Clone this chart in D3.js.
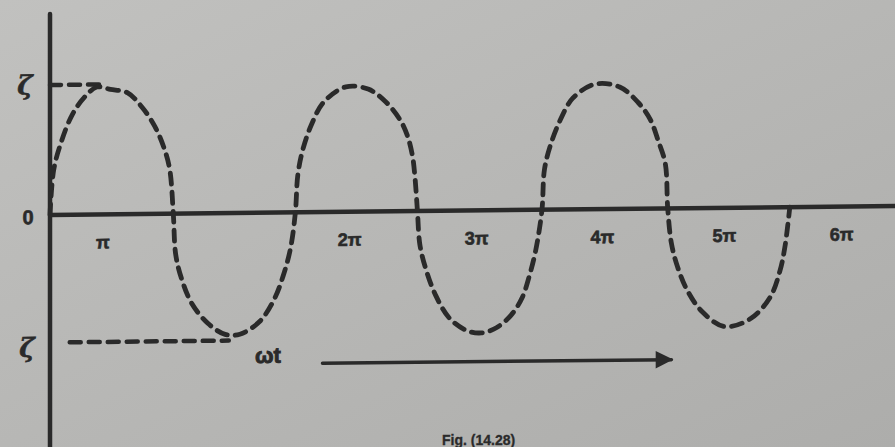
<!DOCTYPE html>
<html>
<head>
<meta charset="utf-8">
<script src="https://cdn.jsdelivr.net/npm/d3@7"></script>
<style>
  html, body { margin: 0; padding: 0; background: #b9b9b7; }
  svg { display: block; }
</style>
</head>
<body>
<svg id="fig" width="895" height="447"></svg>
<script>
// Phase of the wave in units of π, and its value as a fraction of the peak
const phase = [
  0, 0.03, 0.09, 0.18, 0.28, 0.38, 0.49, 0.63, 0.75, 0.85, 0.92, 0.97, 1.0,
  1.02, 1.07, 1.15, 1.28, 1.42, 1.54, 1.70, 1.82, 1.89, 1.95, 1.99,
  2.01, 2.05, 2.12, 2.22, 2.40, 2.58, 2.72, 2.84, 2.90, 2.94, 2.96, 2.98,
  3.00, 3.05, 3.13, 3.24, 3.38, 3.50, 3.62, 3.74, 3.83, 3.89, 3.94, 3.99,
  4.01, 4.06, 4.14, 4.24, 4.42, 4.62, 4.77, 4.87, 4.93, 4.99, 5.01,
  5.04, 5.09, 5.17, 5.29, 5.47, 5.68, 5.84, 5.92, 5.96, 6.0
];
const value = [
  0, 0.36, 0.58, 0.80, 0.94, 1.02, 1.00, 0.97, 0.85, 0.70, 0.54, 0.36, 0,
  -0.33, -0.53, -0.72, -0.88, -0.97, -0.97, -0.87, -0.69, -0.51, -0.29, 0,
  0.30, 0.50, 0.70, 0.88, 1.00, 0.98, 0.88, 0.73, 0.60, 0.44, 0.27, 0,
  -0.27, -0.47, -0.68, -0.86, -0.96, -0.98, -0.94, -0.84, -0.70, -0.52, -0.32, 0,
  0.32, 0.52, 0.72, 0.89, 1.00, 0.975, 0.85, 0.71, 0.55, 0.36, 0,
  -0.28, -0.47, -0.66, -0.83, -0.95, -0.89, -0.72, -0.51, -0.32, 0
];

// Tick labels along the ωt axis (positions in units of π)
const tickPos = [0.43, 2.43, 3.46, 4.48, 5.47, 6.42];
const tickLabels = ["π", "2π", "3π", "4π", "5π", "6π"];

// Dashed guide lines marking the peak levels: [fromPhase, toPhase, level]
const peakGuide = [0, 0.4, 1.04];
const troughGuide = [0.16, 1.45, -1.02];

// Direction-of-time arrow: [fromPhase, toPhase, level]
const timeArrow = [2.21, 5.04, -1.21];

const INK = "#2a2a2a";
const svg = d3.select("#fig");

// paper background
const defs = svg.append("defs");
const grad = defs.append("linearGradient").attr("id", "paper")
  .attr("x1", "0").attr("y1", "0").attr("x2", "1").attr("y2", "1");
grad.append("stop").attr("offset", "0").attr("stop-color", "#c1c1bf");
grad.append("stop").attr("offset", "1").attr("stop-color", "#adadab");
svg.append("rect").attr("width", 895).attr("height", 447).attr("fill", "url(#paper)");

defs.append("marker").attr("id", "head")
  .attr("viewBox", "0 0 10 10").attr("refX", 9).attr("refY", 5)
  .attr("markerWidth", 13).attr("markerHeight", 5).attr("markerUnits", "strokeWidth")
  .attr("orient", "auto")
  .append("path").attr("d", "M0,0 L10,5 L0,10 Z").attr("fill", INK);

const x0 = 50, y0 = 215;
const x = d3.scaleLinear().domain([0, 6]).range([x0, x0 + 6 * 123.3]);
const y = d3.scaleLinear().domain([-1, 1]).range([y0 + 125, y0 - 125]);

// the printed figure sits very slightly tilted on the page
const g = svg.append("g")
  .attr("transform", `translate(${x0},${y0}) skewY(-0.61) translate(${-x0},${-y0})`);

// vertical axis
g.append("line")
  .attr("x1", x0).attr("x2", x0).attr("y1", 14).attr("y2", 460)
  .attr("stroke", INK).attr("stroke-width", 4.5).attr("stroke-linecap", "round");

// horizontal (ωt) axis
g.append("line")
  .attr("x1", x0).attr("x2", 900).attr("y1", y(0)).attr("y2", y(0))
  .attr("stroke", INK).attr("stroke-width", 4.5);

// dashed guides to the peak levels
[peakGuide, troughGuide].forEach(([a, b, lv]) => {
  g.append("line")
    .attr("x1", x(a)).attr("x2", x(b)).attr("y1", y(lv)).attr("y2", y(lv))
    .attr("stroke", INK).attr("stroke-width", 4.5)
    .attr("stroke-dasharray", "11 8").attr("stroke-linecap", "round");
});

// the wave
const pts = phase.map((p, i) => [p, value[i]]);
const line = d3.line().x(d => x(d[0])).y(d => y(d[1])).curve(d3.curveCatmullRom.alpha(0.5));
g.append("path")
  .attr("d", line(pts))
  .attr("fill", "none").attr("stroke", INK).attr("stroke-width", 4.8)
  .attr("stroke-dasharray", "11 8").attr("stroke-linecap", "round");

// axis annotations
const txt = (sel, t, px, py, size, opts = {}) => sel.append("text")
  .attr("x", px).attr("y", py)
  .attr("text-anchor", opts.anchor || "middle")
  .attr("font-family", opts.family || "Liberation Sans, Arial, sans-serif")
  .attr("font-weight", opts.weight || "bold")
  .attr("font-style", opts.style || "normal")
  .attr("font-size", size).attr("fill", INK)
  .attr("stroke", INK).attr("stroke-width", opts.heavy || 0.6)
  .text(t);

// tick labels
tickPos.forEach((p, i) => txt(g, tickLabels[i], x(p), y(0) + 34, 18));

// time arrow
g.append("line")
  .attr("x1", x(timeArrow[0])).attr("x2", x(timeArrow[1]))
  .attr("y1", y(timeArrow[2])).attr("y2", y(timeArrow[2]))
  .attr("stroke", INK).attr("stroke-width", 3.5).attr("stroke-linecap", "round")
  .attr("marker-end", "url(#head)");

txt(g, "0", 28, y(0) + 9, 20);
txt(g, "ωt", 268, y(timeArrow[2]) - 1, 22, { heavy: 0.9 });
txt(g, "ζ", 25, y(1.04) + 9, 26, { family: "DejaVu Serif, serif", style: "italic" });
txt(g, "ζ", 27, y(-1.02) + 14, 26, { family: "DejaVu Serif, serif", style: "italic" });

// caption along the bottom edge
txt(svg, "Fig. (14.28)", 442, 445, 14, { anchor: "start", heavy: 0.3 });
</script>
</body>
</html>
